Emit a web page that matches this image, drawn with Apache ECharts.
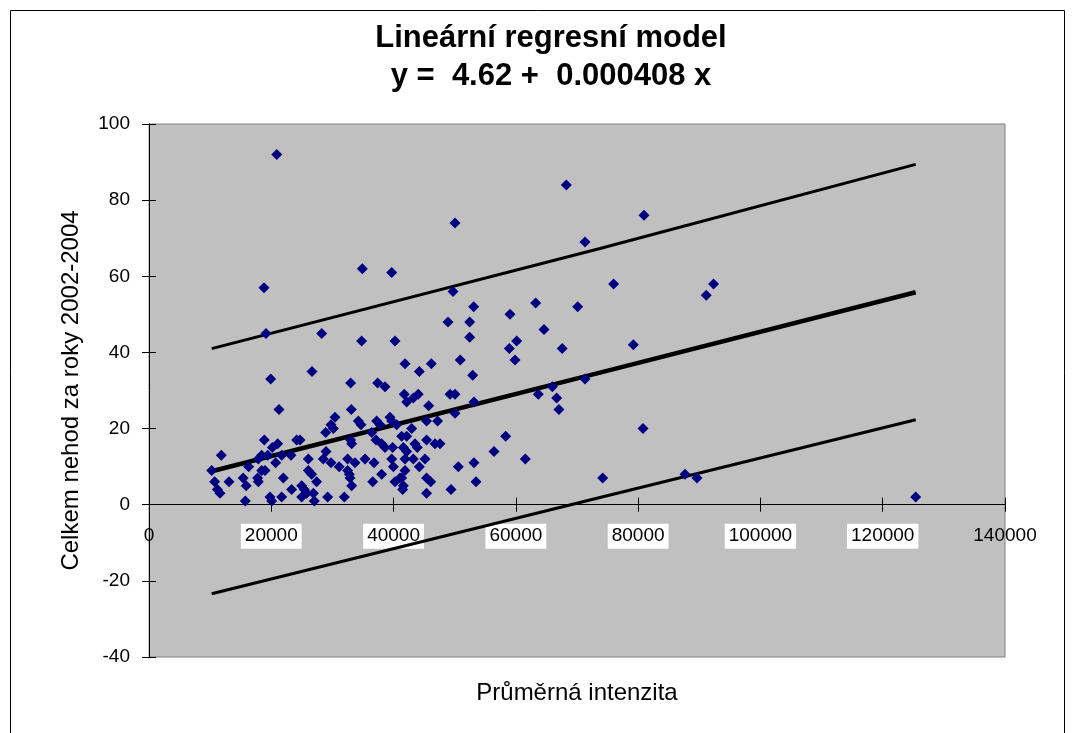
<!DOCTYPE html>
<html><head><meta charset="utf-8">
<script src="https://cdn.jsdelivr.net/npm/echarts@6/dist/echarts.min.js"></script>
<style>html,body{margin:0;padding:0;background:#fff}#c{width:1077px;height:733px}</style>
</head><body><div id="c"></div>
<script>
const titleLines = ['Lineární regresní model', 'y =  4.62 +  0.000408 x'];
const xAxisTitle = 'Průměrná intenzita';
const yAxisTitle = 'Celkem nehod za roky 2002-2004';

const intensity = [20890,34890,18810,19140,28240,34780,19900,26660,32980,37400,
68250,50050,71310,39690,49720,53100,63240,70110,59040,75990,
80960,92340,91140,79210,80790,74200,87660,89630,125390,
48900,52450,52450,40230,41870,46170,44210,50910,52940,
64600,60140,58930,67580,59860,71310,65960,63670,66680,67050,58340,56430,61550,
38600,41750,43230,44040,42150,49230,50050,45740,53150,50050,
37230,37780,39410,39690,40510,45400,47200,42960,37130,38050,
41330,42150,38600,39850,41590,43500,43880,45400,46780,47590,
42150,41870,43230,45140,36800,39690,39970,44210,41870,50590,
53150,38050,41050,40230,41330,41590,36580,45400,46070,53480,
41480,45400,49390,
21260,30420,33090,29770,30150,34230,34670,28900,36420,18860,
21050,20170,24150,24700,32980,33150,18430,19410,17880,21700,
23220,28950,26060,28510,29770,32490,33690,35330,20720,18430,
18970,31110,26060,26600,32490,32760,32870,33150,27420,21970,
17770,17880,23330,24970,25400,25790,26880,27040,24970,29220,
31940,19790,20070,21700,
11830,10250,16300,10740,13080,15400,15900,11180,11610,15750];

const accidents = [92,62,57,45,45,43,33,35,32,32,
84,74,69,61,56,52,53,52,50,58,
76,58,55,42,20,7,8,7,2,
48,48,44,43,37,37,35,38,34,
46,43,41,41,38,33,31,29,28,25,18,14,12,
31,29,28,29,27,29,29,26,27,24,
22,21,23,22,21,22,22,20,17,16,
18,18,15,15,15,16,15,17,16,16,
14,12,12,12,11,12,10,10,9,10,
11,8,7,6,7,5,6,7,6,6,
4,3,4,
25,23,25,21,20,22,21,19,19,17,
16,15,17,17,17,16,13,13,12,13,
13,14,12,12,11,12,11,12,11,9,
9,10,9,8,9,8,7,5,6,7,
7,6,4,5,4,3,3,1,2,2,
2,2,1,2,
13,9,10,6,6,7,5,4,3,1];

// regression line and prediction bands, read at three x positions
const bandX = [10250, 73760, 125390];
const fitY = [8.8, 34.7, 55.8];
const upperY = [41.0, 67.3, 89.4];
const lowerY = [-23.4, 1.9, 22.3];

const xMin = 0, xMax = 140000, xStep = 20000;
const yMin = -40, yMax = 100, yStep = 20;

const FONT = '"Liberation Sans", Arial, sans-serif';
const chart = echarts.init(document.getElementById('c'), null, {renderer: 'canvas'});

const zip = (xs, ys) => xs.map((x, i) => [x, ys[i]]);

const GRID_TOP = 124, GRID_H = 533;
// distance from the grid bottom up to value 0 of the y axis
const zeroOffset = GRID_H * (0 - yMin) / (yMax - yMin);

const option = {
  animation: false,
  backgroundColor: '#ffffff',
  textStyle: {fontFamily: FONT},
  grid: {left: 149, right: 72, top: GRID_TOP, height: GRID_H, show: true,
         containLabel: false, outerBoundsMode: 'none',
         backgroundColor: '#c0c0c0', borderColor: '#808080', borderWidth: 1},
  graphic: [
    {type: 'rect', shape: {x: 10.5, y: 10.5, width: 1054, height: 740},
     style: {fill: 'none', stroke: '#000', lineWidth: 1}, silent: true},
    {type: 'text', x: 551, y: 38, style: {text: titleLines[0], align: 'center', verticalAlign: 'middle',
      font: 'bold 31px ' + FONT, fill: '#000'}},
    {type: 'text', x: 551, y: 76, style: {text: titleLines[1], align: 'center', verticalAlign: 'middle',
      font: 'bold 31px ' + FONT, fill: '#000'}}
  ],
  xAxis: [
    {type: 'value', min: xMin, max: xMax, interval: xStep, position: 'bottom', offset: -zeroOffset,
     name: xAxisTitle, nameLocation: 'middle', nameGap: 177,
     nameTextStyle: {fontSize: 24, color: '#000', fontFamily: FONT},
     axisLine: {show: true, onZero: false, lineStyle: {color: '#000', width: 1}},
     axisTick: {show: true, inside: false, length: 7, lineStyle: {color: '#000'}},
     splitLine: {show: false},
     axisLabel: {margin: 19, color: '#000', fontSize: 19, fontFamily: FONT,
       formatter: function (v) { return (v === xMin || v === xMax) ? '{p|' + v + '}' : '{b|' + v + '}'; },
       rich: {p: {fontSize: 19, color: '#000', padding: [3, 2]},
              b: {fontSize: 19, color: '#000', backgroundColor: '#ffffff', padding: [3, 4]}}}},
    {type: 'value', min: xMin, max: xMax, interval: xStep, position: 'bottom', offset: -zeroOffset,
     axisLine: {show: false, onZero: false},
     axisTick: {show: true, inside: true, length: 7, lineStyle: {color: '#000'}},
     axisLabel: {show: false}, splitLine: {show: false}}
  ],
  yAxis: [
    {type: 'value', min: yMin, max: yMax, interval: yStep,
     name: yAxisTitle, nameLocation: 'middle', nameGap: 66,
     nameTextStyle: {fontSize: 24, color: '#000', fontFamily: FONT},
     axisLine: {show: true, onZero: false, lineStyle: {color: '#000', width: 1}},
     axisTick: {show: true, inside: false, length: 7, lineStyle: {color: '#000'}},
     splitLine: {show: false},
     axisLabel: {margin: 19, color: '#000', fontSize: 19, fontFamily: FONT}},
    {type: 'value', min: yMin, max: yMax, interval: yStep, position: 'left',
     axisLine: {show: false, onZero: false},
     axisTick: {show: true, inside: true, length: 7, lineStyle: {color: '#000'}},
     axisLabel: {show: false}, splitLine: {show: false}}
  ],
  series: [
    {type: 'line', data: zip(bandX, upperY), showSymbol: false, symbol: 'none',
     lineStyle: {color: '#000', width: 3}, z: 2},
    {type: 'line', data: zip(bandX, lowerY), showSymbol: false, symbol: 'none',
     lineStyle: {color: '#000', width: 3}, z: 2},
    {type: 'line', data: zip(bandX, fitY), showSymbol: false, symbol: 'none',
     lineStyle: {color: '#000', width: 4.5}, z: 2},
    {type: 'scatter', data: zip(intensity, accidents), symbol: 'diamond', symbolSize: 11,
     itemStyle: {color: '#000080', opacity: 1}, z: 3}
  ]
};
chart.setOption(option);
</script>
</body></html>
